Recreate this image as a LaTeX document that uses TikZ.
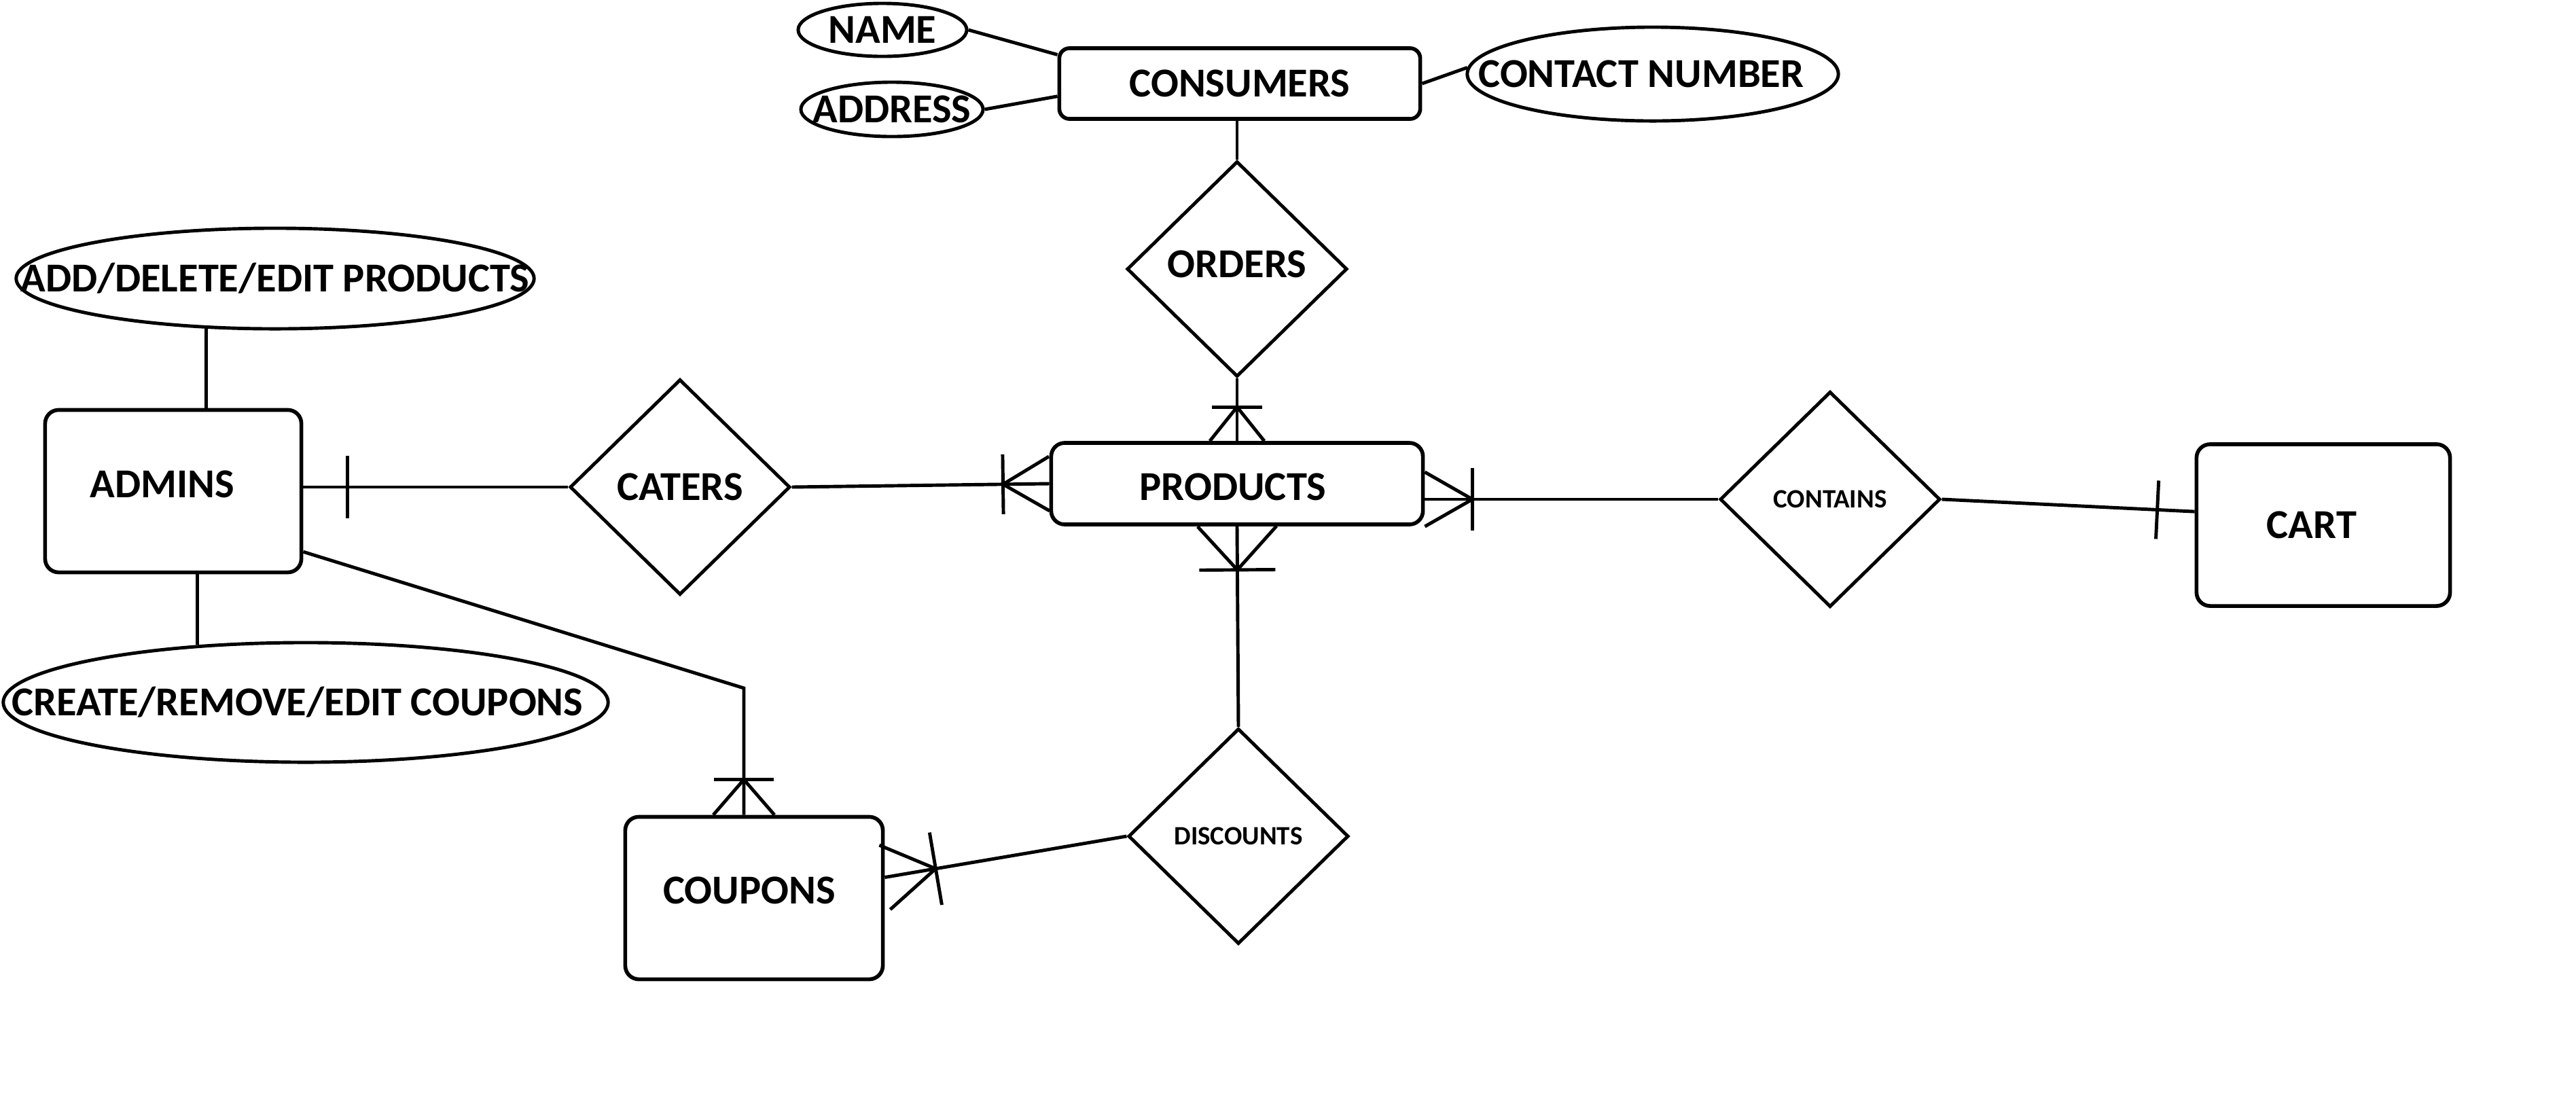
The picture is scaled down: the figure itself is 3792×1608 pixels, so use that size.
\documentclass[tikz,border=0pt]{standalone}
\usepackage{fontspec}
\setmainfont{Carlito}
\usetikzlibrary{shapes.geometric,calc}
\newcommand\bigfont{\bfseries\fontsize{17.2pt}{20pt}\selectfont}
\newcommand\smallfont{\bfseries\fontsize{11.1pt}{13pt}\selectfont}
\newcommand\manyend[5]{%
  \coordinate (cfT) at ($(#1)!#3!(#2)$);
  \draw[conn] ($(#1)!#4!90:(#2)$) -- (cfT) -- ($(#1)!#4!-90:(#2)$);
  \draw[conn] ($(cfT)!#5!90:(#2)$) -- ($(cfT)!#5!-90:(#2)$);
}
\newcommand\oneend[4]{%
  \coordinate (cfB) at ($(#1)!#3!(#2)$);
  \draw[conn] ($(cfB)!#4!90:(#2)$) -- ($(cfB)!#4!-90:(#2)$);
}
\begin{document}
\begin{tikzpicture}[x=0.01cm,y=-0.01cm,
  entity/.style={draw,line width=1.6pt,rounded corners=0.2cm,inner sep=0pt,font=\bigfont},
  rel/.style={draw,diamond,line width=1.4pt,inner sep=0pt,minimum width=3.24cm,minimum height=3.17cm,font=\bigfont},
  attr/.style={draw,ellipse,line width=1.4pt,inner sep=0pt,font=\bigfont},
  conn/.style={line width=1.4pt}]
\fill[white] (0,0) rectangle (3792,1608);
\useasboundingbox (0,0) rectangle (3792,1608);

% entities
\node[entity,minimum width=5.31cm,minimum height=1.04cm,rounded corners=0.15cm] (consumers) at (1825,123) {CONSUMERS};
\node[entity,minimum width=5.47cm,minimum height=1.20cm,text height=0.48cm,text depth=0pt] (products) at (1821,712) {PRODUCTS\hspace*{0.12cm}};
\node[entity,minimum width=3.77cm,minimum height=2.39cm,text height=0.18cm,text depth=0pt] (admins) at (255,723) {ADMINS\hspace*{0.32cm}};
\node[entity,minimum width=3.79cm,minimum height=2.39cm,text height=0.16cm,text depth=0pt] (coupons) at (1110,1322) {COUPONS\hspace*{0.14cm}};
\node[entity,minimum width=3.73cm,minimum height=2.38cm] (cart) at (3420,773) {CART\hspace*{0.34cm}};

% relationships
\node[rel,text height=0.24cm,text depth=0pt] (orders) at (1821,396) {ORDERS};
\node[rel] (caters) at (1001,717) {CATERS};
\node[rel,font=\smallfont] (contains) at (2694,735) {CONTAINS};
\node[rel,font=\smallfont] (discounts) at (1823,1231) {DISCOUNTS};

% attributes
\node[attr,minimum width=2.48cm,minimum height=0.78cm] (name) at (1299,44) {\makebox[0pt]{NAME}};
\node[attr,minimum width=2.68cm,minimum height=0.80cm] (address) at (1313,161) {\makebox[0pt]{ADDRESS}};
\node[attr,minimum width=5.46cm,minimum height=1.38cm] (contact) at (2433,109) {\makebox[0pt]{CONTACT NUMBER\hspace{0.34cm}}};
\node[attr,minimum width=7.62cm,minimum height=1.48cm] (addprod) at (405,410) {\makebox[0pt]{ADD/DELETE/EDIT PRODUCTS}};
\node[attr,minimum width=8.90cm,minimum height=1.76cm] (createc) at (450,1034) {\makebox[0pt]{CREATE/REMOVE/EDIT COUPONS\hspace{0.24cm}}};

% attribute links
\draw[conn] (name.east) -- (consumers.171);
\draw[conn] (address.east) -- (consumers.184);
\draw[conn] (consumers.east) -- (contact.178);
\draw[conn] (addprod.216) -- (addprod.216 |- admins.north);
\draw[conn] (createc.152) -- (createc.152 |- admins.south);

% consumers - orders - products
\draw[conn] (orders.north |- consumers.south) -- (orders.north);
\draw[conn] (orders.south) -- (products.north);
\manyend{products.north}{orders.south}{0.50cm}{0.40cm}{0.37cm}

% admins - caters - products
\coordinate (ac) at (admins.east |- caters.west);
\draw[conn] (ac) -- (caters.west);
\oneend{ac}{caters.west}{0.65cm}{0.46cm}
\draw[conn] (caters.east) -- (products.west);
\manyend{products.west}{caters.east}{0.68cm}{0.40cm}{0.44cm}

% products - contains - cart
\coordinate (pc) at (products.east |- contains.west);
\draw[conn] (pc) -- (contains.west);
\manyend{pc}{contains.west}{0.70cm}{0.40cm}{0.46cm}
\draw[conn] (contains.east) -- (cart.174);
\oneend{cart.174}{contains.east}{0.55cm}{0.43cm}

% products - discounts - coupons
\draw[conn] (products.south) -- (discounts.north);
\manyend{products.south}{discounts.north}{0.64cm}{0.58cm}{0.56cm}
\draw[conn] (discounts.west) -- (coupons.9);
\manyend{coupons.9}{discounts.west}{0.76cm}{0.48cm}{0.54cm}

% admins - coupons
\coordinate (bend) at (1095,1013);
\coordinate (ct) at (bend |- coupons.north);
\draw[conn] (admins.335) -- (bend) -- (ct);
\manyend{ct}{bend}{0.52cm}{0.45cm}{0.44cm}
\end{tikzpicture}
\end{document}
